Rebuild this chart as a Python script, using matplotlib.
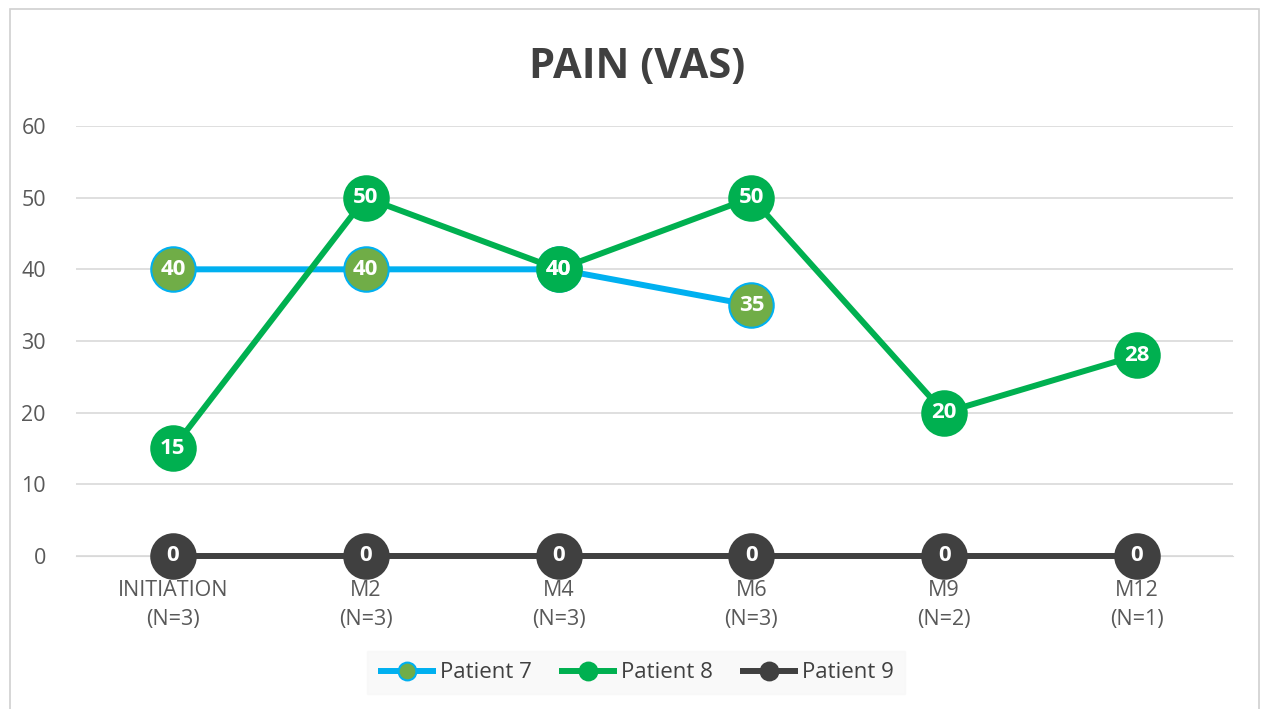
import numpy as np
import matplotlib.pyplot as plt
from matplotlib.patches import Rectangle

plt.rcParams['font.family'] = ['Open Sans', 'DejaVu Sans']

categories = ['INITIATION\n(N=3)', 'M2\n(N=3)', 'M4\n(N=3)', 'M6\n(N=3)', 'M9\n(N=2)', 'M12\n(N=1)']
patient7 = [40, 40, 40, 35, np.nan, np.nan]
patient8 = [15, 50, 40, 50, 20, 28]
patient9 = [0, 0, 0, 0, 0, 0]

series = [
    ('Patient 7', patient7, '#00B0F0', '#70AD47', '#00B0F0'),
    ('Patient 8', patient8, '#00B050', '#00B050', '#00B050'),
    ('Patient 9', patient9, '#404040', '#404040', '#404040'),
]

fig = plt.figure(figsize=(12.62, 7.09), dpi=100)
ax = fig.add_axes([0.0606, 0.2158, 0.9168, 0.6065])

# outer chart border
fig.patches.append(Rectangle((0.008, -0.01), 0.99, 0.998, transform=fig.transFigure,
                             fill=False, edgecolor='#D0D0D0', linewidth=1.2))

x = np.arange(len(categories))
for i, (name, vals, lc, fc, ec) in enumerate(series):
    ax.plot(x, vals, color=lc, linewidth=4.3, marker='o', markersize=32,
            markerfacecolor=fc, markeredgecolor=ec, markeredgewidth=1.5,
            label=name, zorder=3 + i, solid_capstyle='butt', clip_on=False)
    for xi, v in zip(x, vals):
        if not np.isnan(v):
            ax.text(xi, v, f'{v:g}', ha='center', va='center', color='white',
                    fontsize=16, fontweight='bold', zorder=10)

ax.set_xlim(-0.5, len(categories) - 0.5)
ax.set_ylim(0, 60)
ax.set_yticks(range(0, 61, 10))
ax.set_xticks(x)
ax.set_xticklabels(categories, linespacing=1.55)
ax.grid(axis='y', color='#D9D9D9', linewidth=1.2, zorder=0)
ax.set_axisbelow(True)
for s in ['top', 'right', 'left']:
    ax.spines[s].set_visible(False)
ax.spines['bottom'].set_color('#D9D9D9')
ax.tick_params(length=0, labelsize=15.5, labelcolor='#595959')
ax.tick_params(axis='x', pad=17)
ax.tick_params(axis='y', pad=22)

fig.text(0.505, 0.905, 'PAIN (VAS)', ha='center', va='center', fontsize=30,
         fontweight='bold', color='#404040')

leg = ax.legend(loc='center', bbox_to_anchor=(0.504, 0.051), bbox_transform=fig.transFigure,
                ncol=3, frameon=True, fontsize=16, markerscale=0.4, handlelength=2.6,
                handletextpad=0.2, columnspacing=1.2, borderpad=0.5, borderaxespad=0,
                fancybox=False)
leg.get_frame().set_facecolor('#F8F8F8')
leg.get_frame().set_edgecolor('#F8F8F8')
for t in leg.get_texts():
    t.set_color('#404040')

fig.savefig('out.png', dpi=100)
